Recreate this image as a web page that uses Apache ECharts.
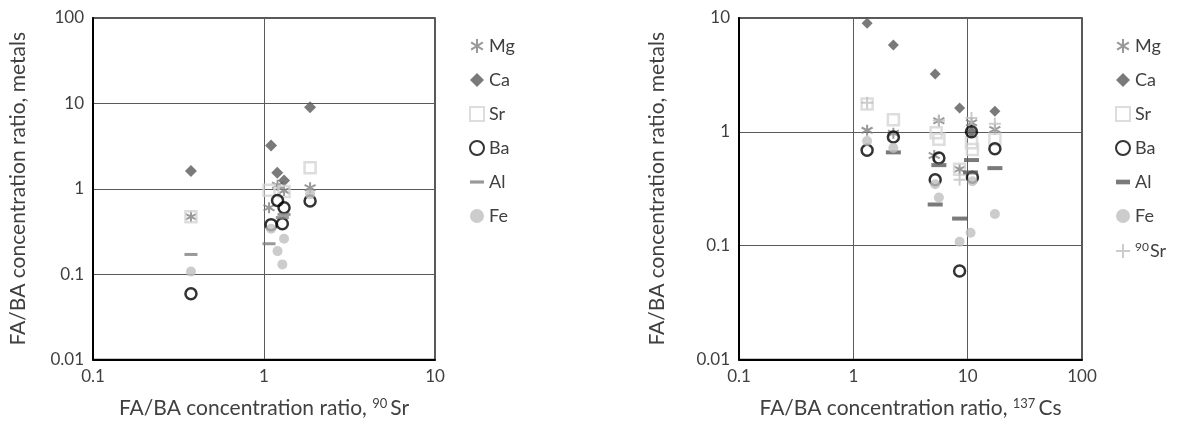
<!DOCTYPE html>
<html>
<head>
<meta charset="utf-8">
<script src="https://cdn.jsdelivr.net/npm/echarts@6/dist/echarts.min.js"></script>
<style>html,body{margin:0;padding:0;background:#fff}#c{width:1178px;height:424px}</style>
</head>
<body>
<div id="c"></div>
<script>
// ---- data: left chart (x = FA/BA ratio of 90Sr) ----
const leftMg = [[0.374,0.47],[1.07,0.60],[1.20,1.10],[1.31,0.95],[1.86,1.03]];
const leftCa = [[0.374,1.61],[1.10,3.21],[1.195,1.54],[1.31,1.25],[1.86,9.0]];
const leftSr = [[0.374,0.47],[1.07,0.96],[1.31,0.93],[1.86,1.76]];
const leftBa = [[0.374,0.059],[1.20,0.73],[1.31,0.60],[1.10,0.38],[1.28,0.39],[1.86,0.72]];
const leftAl = [[0.374,0.17],[1.07,0.227],[1.31,0.50],[1.28,0.46]];
const leftFe = [[0.374,0.107],[1.10,0.34],[1.31,0.26],[1.20,0.186],[1.28,0.13],[1.86,0.86]];
// ---- data: right chart (x = FA/BA ratio of 137Cs) ----
const rightMg = [[1.32,1.03],[2.24,0.97],[5.1,0.62],[5.6,1.25],[8.5,0.47],[10.8,1.2],[17.3,1.05]];
const rightCa = [[1.32,9.0],[2.24,5.8],[5.2,3.22],[8.5,1.62],[10.8,1.0],[17.3,1.52]];
const rightSr = [[1.32,1.76],[2.24,1.28],[5.3,0.98],[5.6,0.86],[8.5,0.47],[10.8,0.80],[11.0,0.70],[17.3,0.86]];
const rightBa = [[1.32,0.69],[2.24,0.90],[5.6,0.59],[5.2,0.38],[8.5,0.06],[10.8,1.0],[11.0,0.40],[17.3,0.71]];
const rightAl = [[2.24,0.66],[5.6,0.51],[5.2,0.23],[8.5,0.173],[10.8,0.565],[10.6,0.44],[17.3,0.48]];
const rightFe = [[1.32,0.83],[2.24,0.72],[5.2,0.346],[5.6,0.265],[8.5,0.108],[11.0,0.368],[10.6,0.13],[17.3,0.19]];
const rightSr90 = [[1.32,1.8],[5.6,1.26],[8.5,0.38],[10.8,1.32],[17.3,1.18]];
// ---- axis ticks ----
const leftXTicks = ['0.1','1','10'];
const leftYTicks = ['0.01','0.1','1','10','100'];
const rightXTicks = ['0.1','1','10','100'];
const rightYTicks = ['0.01','0.1','1','10'];

const FONT = 'Lato, "Open Sans", sans-serif';
const TXT = '#404040';
const ASTER = 'path://M5,0L5,10M0.8,2.4L9.2,7.6M0.8,7.6L9.2,2.4';
const PLUS = 'path://M5,0L5,10M0,5L10,5';
const fmt = v => String(Number(Number(v).toPrecision(6)));

function xAxis(gi, min, max, ticks, nameRich) {
  return {
    type:'log', logBase:10, gridIndex:gi, min, max,
    name: nameRich, nameLocation:'middle', nameGap:38,
    nameTextStyle:{fontFamily:FONT, fontSize:21, color:TXT,
      rich:{sup:{fontFamily:FONT, fontSize:13, color:TXT, padding:[0,3,9,0]}}},
    axisLine:{show:true, lineStyle:{color:'#000', width:2}},
    axisTick:{show:false}, minorTick:{show:false},
    axisLabel:{fontFamily:FONT, fontSize:17, color:TXT, margin:9,
      formatter: v => { const s = fmt(v); return ticks.includes(s) ? s : ''; }},
    splitLine:{show:true, lineStyle:{color:'#5a5a5a', width:1}}
  };
}
function yAxis(gi, min, max, ticks, gap) {
  return {
    type:'log', logBase:10, gridIndex:gi, min, max,
    name:'FA/BA concentration ratio, metals', nameLocation:'middle', nameGap:gap,
    nameTextStyle:{fontFamily:FONT, fontSize:21, color:TXT},
    axisLine:{show:true, lineStyle:{color:'#000', width:2}},
    axisTick:{show:false}, minorTick:{show:false},
    axisLabel:{fontFamily:FONT, fontSize:17, color:TXT, margin:9,
      formatter: v => { const s = fmt(v); return ticks.includes(s) ? s : ''; }},
    splitLine:{show:true, lineStyle:{color:'#5a5a5a', width:1}}
  };
}
function sc(name, gi, data, symbol, size, style) {
  return {type:'scatter', name, xAxisIndex:gi, yAxisIndex:gi, data,
    symbol, symbolSize:size, itemStyle:style, emphasis:{disabled:true}, silent:true};
}
const stMg = {color:'transparent', borderColor:'#7f7f7f', borderWidth:2};
const stCa = {color:'#595959'};
const stSr = {color:'transparent', borderColor:'#d4d4d4', borderWidth:2.5};
const stBa = {color:'transparent', borderColor:'#000', borderWidth:2.5};
const stFe = {color:'#bfbfbf'};
const stPlus = {color:'transparent', borderColor:'#bfbfbf', borderWidth:2};

const legendBase = {
  orient:'vertical', top:32, itemGap:16, itemWidth:14, itemHeight:14, symbolKeepAspect:true,
  textStyle:{fontFamily:FONT, fontSize:18, color:TXT, lineHeight:16,
    rich:{sup:{fontFamily:FONT, fontSize:12, color:TXT, lineHeight:16, padding:[0,1,8,0]},
          n:{fontFamily:FONT, fontSize:18, color:TXT, lineHeight:16}}},
  formatter: n => { const s = n.replace('R-',''); return s === '90Sr' ? '{sup|90}{n|Sr}' : s; },
  selectedMode:false
};

const option = {
  animation:false,
  grid:[
    {left:93, top:18, width:342, height:343, show:true, borderColor:'#222', borderWidth:1.5},
    {left:739, top:18, width:343, height:343, show:true, borderColor:'#222', borderWidth:1.5}
  ],
  xAxis:[
    xAxis(0, 0.1, 10, leftXTicks, 'FA/BA concentration ratio, {sup|90}Sr'),
    xAxis(1, 0.1, 100, rightXTicks, 'FA/BA concentration ratio, {sup|137}Cs')
  ],
  yAxis:[
    yAxis(0, 0.01, 100, leftYTicks, 64),
    yAxis(1, 0.01, 10, rightYTicks, 71)
  ],
  legend:[
    Object.assign({}, legendBase, {left:464, data:[
      {name:'Mg'},{name:'Ca'},{name:'Sr'},{name:'Ba'},
      {name:'Al', icon:'path://M0,0h11v2.5h-11z'},{name:'Fe'}]}),
    Object.assign({}, legendBase, {left:1110, data:[
      {name:'R-Mg'},{name:'R-Ca'},{name:'R-Sr'},{name:'R-Ba'},
      {name:'R-Al', icon:'path://M0,0h12v4h-12z'},{name:'R-Fe'},{name:'R-90Sr'}]})
  ],
  series:[
    sc('Mg',0,leftMg,ASTER,11,stMg),
    sc('Ca',0,leftCa,'diamond',12,stCa),
    sc('Sr',0,leftSr,'rect',11,stSr),
    sc('Ba',0,leftBa,'circle',11,stBa),
    sc('Al',0,leftAl,'rect',[13,3],{color:'#808080'}),
    sc('Fe',0,leftFe,'circle',10,stFe),
    sc('R-Mg',1,rightMg,ASTER,11,stMg),
    sc('R-Ca',1,rightCa,'diamond',11,stCa),
    sc('R-Sr',1,rightSr,'rect',11,stSr),
    sc('R-Ba',1,rightBa,'circle',11,stBa),
    sc('R-Al',1,rightAl,'rect',[15,4],{color:'#595959'}),
    sc('R-Fe',1,rightFe,'circle',10,stFe),
    sc('R-90Sr',1,rightSr90,PLUS,12,stPlus)
  ]
};
const chart = echarts.init(document.getElementById('c'), null, {renderer:'canvas'});
chart.setOption(option);
</script>
</body>
</html>
